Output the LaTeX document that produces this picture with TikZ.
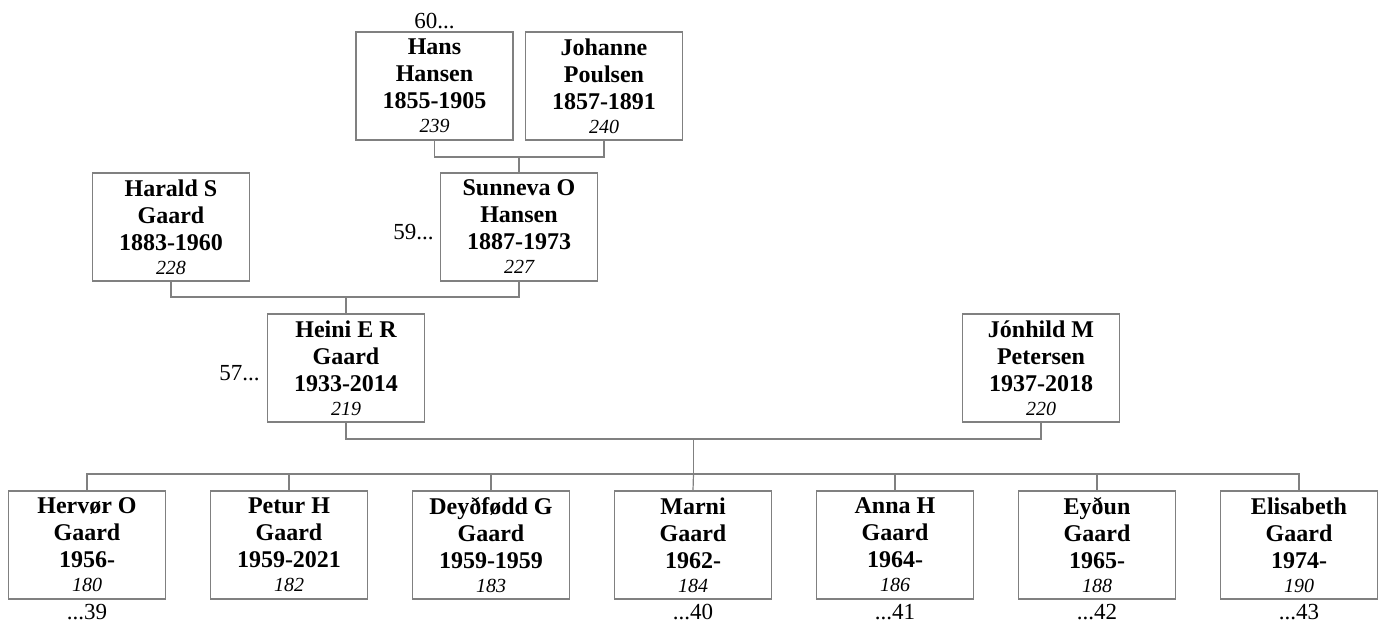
\documentclass[tikz,border=0pt]{standalone}
\usepackage{fontspec}
\setmainfont{Liberation Serif}
\usepackage{xcolor}
\usepackage{tikz}
\usetikzlibrary{positioning}
\definecolor{linegray}{RGB}{128, 128, 128}

\newcommand{\pnum}[1]{{\fontsize{10}{11.5}\selectfont\mdseries\itshape #1}}

\begin{document}
\begin{tikzpicture}[x=0.5pt, y=-0.5pt,
  person/.style={draw=linegray, fill=white, line width=0.6pt, align=center, inner sep=0pt, minimum width=78.5pt, minimum height=54pt, font=\fontsize{12}{13.5}\selectfont\bfseries},
  link/.style={draw=linegray, line width=0.6pt},
  more/.style={font=\fontsize{11.5}{13}\selectfont, inner sep=1pt}
]
\useasboundingbox (0,0) rectangle (1383,628);

% Grandparents
\node[person] (hans) at (434.5, 86) {Hans\\Hansen\\1855-1905\\[-1.5pt]\pnum{239}};
\node[person] (johanne) at (604, 86) {Johanne\\Poulsen\\1857-1891\\[-1.5pt]\pnum{240}};

% Parents of Heini
\node[person] (harald) at (171, 227) {Harald S\\Gaard\\1883-1960\\[-1.5pt]\pnum{228}};
\node[person] (sunneva) at (519, 227) {Sunneva O\\Hansen\\1887-1973\\[-1.5pt]\pnum{227}};

% Couple
\node[person] (heini) at (346, 368) {Heini E R\\Gaard\\1933-2014\\[-1.5pt]\pnum{219}};
\node[person] (jonhild) at (1041, 368) {Jónhild M\\Petersen\\1937-2018\\[-1.5pt]\pnum{220}};

% Children
\node[person] (hervor) at (87, 545) {Hervør O\\Gaard\\1956-\\[-1.5pt]\pnum{180}};
\node[person] (petur) at (289, 545) {Petur H\\Gaard\\1959-2021\\[-1.5pt]\pnum{182}};
\node[person] (deydfodd) at (491, 545) {Deyðfødd G\\Gaard\\1959-1959\\[-1.5pt]\pnum{183}};
\node[person] (marni) at (693, 545) {Marni\\Gaard\\1962-\\[-1.5pt]\pnum{184}};
\node[person] (anna) at (895, 545) {Anna H\\Gaard\\1964-\\[-1.5pt]\pnum{186}};
\node[person] (eydun) at (1097, 545) {Eyðun\\Gaard\\1965-\\[-1.5pt]\pnum{188}};
\node[person] (elisabeth) at (1299, 545) {Elisabeth\\Gaard\\1974-\\[-1.5pt]\pnum{190}};

% Continuation marks
\node[more, anchor=south] (m60) at (hans.north) {60...};
\node[more, anchor=east] (m59) at (436, 232) {59...};
\node[more, anchor=east] (m57) at (262, 373) {57...};
\node[more, anchor=north, yshift=-1pt] (m39) at (hervor.south) {...39};
\node[more, anchor=north, yshift=-1pt] (m40) at (marni.south) {...40};
\node[more, anchor=north, yshift=-1pt] (m41) at (anna.south) {...41};
\node[more, anchor=north, yshift=-1pt] (m42) at (eydun.south) {...42};
\node[more, anchor=north, yshift=-1pt] (m43) at (elisabeth.south) {...43};

% Junctions
\coordinate (u1) at (519, 157);
\coordinate (u2) at (346, 297);
\coordinate (u3) at (693.5, 439);
\coordinate (kids) at (693.5, 474);

% Connections
\draw[link] (hans.south) |- (u1);
\draw[link] (johanne.south) |- (u1);
\draw[link] (u1) -- (sunneva.north);

\draw[link] (harald.south) |- (u2);
\draw[link] (sunneva.south) |- (u2);
\draw[link] (u2) -- (heini.north);

\draw[link] (heini.south) |- (u3);
\draw[link] (jonhild.south) |- (u3);
\draw[link] (u3) -- (kids);

\draw[link] (kids) -| (hervor.north);
\draw[link] (kids) -| (petur.north);
\draw[link] (kids) -| (deydfodd.north);
\draw[link] (kids) -- (marni.north);
\draw[link] (kids) -| (anna.north);
\draw[link] (kids) -| (eydun.north);
\draw[link] (kids) -| (elisabeth.north);

\end{tikzpicture}
\end{document}
